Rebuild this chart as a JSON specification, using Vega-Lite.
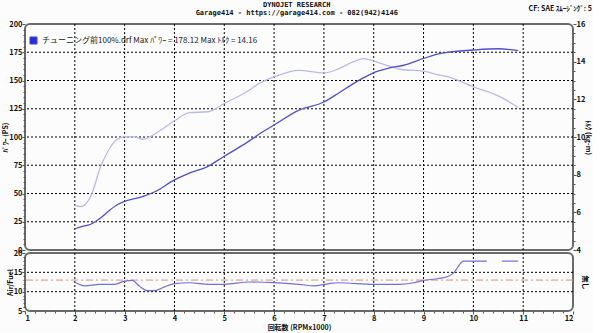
{
  "$schema": "https://vega.github.io/schema/vega-lite/v6.json",
  "background": "#fcfcfc",
  "padding": {"left": 0, "top": 1, "right": 0, "bottom": 0},
  "title": {"text": ["DYNOJET  RESEARCH", "Garage414 - https://garage414.com - 082(942)4146"], "anchor": "middle", "font": "DejaVu Sans Mono", "fontSize": 7, "fontWeight": "bold", "lineHeight": 8, "offset": -12, "color": "#111"},
  "bounds": "flush",
  "spacing": 3,
  "datasets": {
    "pt": [
      {"rpm": 2.0, "power": 18.8, "torque": 6.38},
      {"rpm": 2.12, "power": 20.5, "torque": 6.3},
      {"rpm": 2.32, "power": 22.8, "torque": 6.85},
      {"rpm": 2.52, "power": 28.5, "torque": 8.43},
      {"rpm": 2.68, "power": 34.5, "torque": 9.31},
      {"rpm": 2.85, "power": 40.0, "torque": 9.88},
      {"rpm": 3.0, "power": 43.0, "torque": 10.02},
      {"rpm": 3.2, "power": 45.5, "torque": 10.0},
      {"rpm": 3.37, "power": 47.5, "torque": 9.88},
      {"rpm": 3.63, "power": 52.0, "torque": 10.2},
      {"rpm": 4.0, "power": 62.0, "torque": 10.86},
      {"rpm": 4.3, "power": 68.0, "torque": 11.29},
      {"rpm": 4.67, "power": 74.0, "torque": 11.34},
      {"rpm": 5.0, "power": 83.0, "torque": 11.78},
      {"rpm": 5.45, "power": 95.0, "torque": 12.4},
      {"rpm": 5.75, "power": 104.0, "torque": 12.92},
      {"rpm": 6.0, "power": 110.6, "torque": 13.19},
      {"rpm": 6.5, "power": 123.8, "torque": 13.54},
      {"rpm": 7.0, "power": 131.0, "torque": 13.4},
      {"rpm": 7.3, "power": 139.0, "torque": 13.63},
      {"rpm": 7.6, "power": 147.5, "torque": 14.0},
      {"rpm": 7.8, "power": 152.5, "torque": 14.16},
      {"rpm": 8.0, "power": 157.0, "torque": 14.03},
      {"rpm": 8.3, "power": 161.0, "torque": 13.77},
      {"rpm": 8.6, "power": 163.5, "torque": 13.57},
      {"rpm": 9.0, "power": 169.5, "torque": 13.5},
      {"rpm": 9.3, "power": 173.5, "torque": 13.3},
      {"rpm": 9.5, "power": 175.0, "torque": 13.19},
      {"rpm": 10.0, "power": 177.0, "torque": 12.66},
      {"rpm": 10.5, "power": 178.1, "torque": 12.18},
      {"rpm": 10.9, "power": 176.5, "torque": 11.57}
    ],
    "afr": [
      {"rpm": 2.0, "afr": 12.5, "seg": "a"},
      {"rpm": 2.2, "afr": 11.5, "seg": "a"},
      {"rpm": 2.5, "afr": 11.9, "seg": "a"},
      {"rpm": 2.8, "afr": 11.9, "seg": "a"},
      {"rpm": 3.0, "afr": 12.75, "seg": "a"},
      {"rpm": 3.15, "afr": 12.9, "seg": "a"},
      {"rpm": 3.3, "afr": 11.4, "seg": "a"},
      {"rpm": 3.45, "afr": 10.25, "seg": "a"},
      {"rpm": 3.6, "afr": 10.25, "seg": "a"},
      {"rpm": 3.8, "afr": 11.25, "seg": "a"},
      {"rpm": 4.0, "afr": 12.1, "seg": "a"},
      {"rpm": 4.3, "afr": 12.3, "seg": "a"},
      {"rpm": 4.7, "afr": 11.9, "seg": "a"},
      {"rpm": 5.0, "afr": 11.9, "seg": "a"},
      {"rpm": 5.5, "afr": 12.5, "seg": "a"},
      {"rpm": 6.0, "afr": 12.35, "seg": "a"},
      {"rpm": 6.5, "afr": 11.9, "seg": "a"},
      {"rpm": 6.8, "afr": 11.5, "seg": "a"},
      {"rpm": 7.1, "afr": 12.1, "seg": "a"},
      {"rpm": 7.3, "afr": 12.3, "seg": "a"},
      {"rpm": 8.0, "afr": 11.9, "seg": "a"},
      {"rpm": 8.5, "afr": 11.9, "seg": "a"},
      {"rpm": 8.8, "afr": 12.3, "seg": "a"},
      {"rpm": 9.0, "afr": 12.9, "seg": "a"},
      {"rpm": 9.3, "afr": 13.4, "seg": "a"},
      {"rpm": 9.5, "afr": 14.0, "seg": "a"},
      {"rpm": 9.6, "afr": 14.8, "seg": "a"},
      {"rpm": 9.8, "afr": 17.9, "seg": "a"},
      {"rpm": 10.0, "afr": 17.9, "seg": "a"},
      {"rpm": 10.27, "afr": 17.9, "seg": "a"},
      {"rpm": 10.57, "afr": 17.9, "seg": "b"},
      {"rpm": 10.9, "afr": 17.9, "seg": "b"}
    ],
    "ref": [{"afrRef": 13}],
    "gx": [{"rpm": 2}, {"rpm": 3}, {"rpm": 4}, {"rpm": 5}, {"rpm": 6}, {"rpm": 7}, {"rpm": 8}, {"rpm": 9}, {"rpm": 10}, {"rpm": 11}],
    "gyP": [{"g": 25}, {"g": 50}, {"g": 75}, {"g": 100}, {"g": 125}, {"g": 150}, {"g": 175}],
    "gyA": [{"g": 10}, {"g": 15}]
  },
  "config": {
    "view": {"stroke": "#6a6a6a", "strokeWidth": 2, "cornerRadius": 5},
    "axis": {"labelFont": "Noto Sans CJK JP", "labelFontSize": 7.5, "labelFontWeight": "bold", "labelColor": "#111", "titleFont": "Noto Sans CJK JP", "titleFontSize": 7, "titleFontWeight": "bold", "titleColor": "#111", "domain": false, "tickColor": "#555", "grid": false, "labelPadding": 0, "titlePadding": 0}
  },
  "vconcat": [
    {
      "width": 548,
      "height": 226,
      "title": {"text": "CF: SAE  ｽﾑｰｼﾞﾝｸﾞ: 5", "anchor": "end", "dx": 0, "offset": 8, "font": "Noto Sans CJK JP", "fontSize": 7, "fontWeight": "bold", "color": "#111"},
      "layer": [
        {
          "data": {"name": "gx"},
          "mark": {"type": "rule", "color": "#000", "strokeDash": [2, 2], "strokeWidth": 1},
          "encoding": {
            "x": {"field": "rpm", "type": "quantitative", "scale": {"domain": [1, 12], "nice": false}, "axis": null}
          }
        },
        {
          "data": {"name": "gyP"},
          "mark": {"type": "rule", "color": "#000", "strokeDash": [2, 2], "strokeWidth": 1},
          "encoding": {
            "y": {"field": "g", "type": "quantitative", "scale": {"domain": [0, 200], "nice": false}, "axis": null}
          }
        },
        {
          "data": {"name": "pt"},
          "mark": {"type": "line", "color": "#babaea", "strokeWidth": 1.3, "interpolate": "monotone"},
          "encoding": {
            "x": {"field": "rpm", "type": "quantitative", "scale": {"domain": [1, 12], "nice": false}, "axis": null},
            "y": {"field": "torque", "type": "quantitative", "scale": {"domain": [4, 16], "nice": false}, "axis": {"orient": "right", "title": "ﾄﾙｸ (kg-m)", "titleAngle": 90, "values": [4, 4.5, 5, 5.5, 6, 6.5, 7, 7.5, 8, 8.5, 9, 9.5, 10, 10.5, 11, 11.5, 12, 12.5, 13, 13.5, 14, 14.5, 15, 15.5, 16], "labelExpr": "datum.value % 2 === 0 ? format(datum.value, 'd') : ''", "tickSize": {"condition": {"test": "datum.value % 2 === 0", "value": 3}, "value": 2}}}
          }
        },
        {
          "data": {"name": "pt"},
          "mark": {"type": "line", "strokeWidth": 1.3, "interpolate": "monotone"},
          "encoding": {
            "x": {"field": "rpm", "type": "quantitative", "scale": {"domain": [1, 12], "nice": false}, "axis": null},
            "y": {"field": "power", "type": "quantitative", "scale": {"domain": [0, 200], "nice": false}, "axis": {"orient": "left", "title": "ﾊﾟﾜｰ (PS)", "values": [0, 5, 10, 15, 20, 25, 30, 35, 40, 45, 50, 55, 60, 65, 70, 75, 80, 85, 90, 95, 100, 105, 110, 115, 120, 125, 130, 135, 140, 145, 150, 155, 160, 165, 170, 175, 180, 185, 190, 195, 200], "labelExpr": "datum.value % 25 === 0 ? datum.label : ''", "tickSize": {"condition": {"test": "datum.value % 25 === 0", "value": 3}, "value": 2}}},
            "color": {"datum": "チューニング前100%.drf  Max ﾊﾟﾜｰ = 178.12   Max ﾄﾙｸ = 14.16", "type": "nominal", "scale": {"range": ["#5050c8"]}, "legend": {"title": null, "orient": "none", "legendX": 4, "legendY": 12, "symbolType": "square", "symbolSize": 50, "symbolFillColor": "#2a2ad8", "symbolStrokeColor": "#10107a", "symbolStrokeWidth": 1, "labelFont": "Noto Sans CJK JP", "labelFontSize": 8, "labelColor": "#222", "labelLimit": 500, "padding": 0}}
          }
        }
      ],
      "resolve": {"scale": {"y": "independent"}}
    },
    {
      "width": 548,
      "height": 58,
      "layer": [
        {
          "data": {"name": "gx"},
          "mark": {"type": "rule", "color": "#000", "strokeDash": [2, 2], "strokeWidth": 1},
          "encoding": {
            "x": {"field": "rpm", "type": "quantitative", "scale": {"domain": [1, 12], "nice": false}, "axis": {"orient": "bottom", "title": "回転数 (RPMx1000)", "titlePadding": 2, "values": [1, 1.2, 1.4, 1.6, 1.8, 2, 2.2, 2.4, 2.6, 2.8, 3, 3.2, 3.4, 3.6, 3.8, 4, 4.2, 4.4, 4.6, 4.8, 5, 5.2, 5.4, 5.6, 5.8, 6, 6.2, 6.4, 6.6, 6.8, 7, 7.2, 7.4, 7.6, 7.8, 8, 8.2, 8.4, 8.6, 8.8, 9, 9.2, 9.4, 9.6, 9.8, 10, 10.2, 10.4, 10.6, 10.8, 11, 11.2, 11.4, 11.6, 11.8, 12], "labelExpr": "datum.value % 1 === 0 ? format(datum.value, 'd') : ''", "tickSize": {"condition": {"test": "datum.value % 1 === 0", "value": 3}, "value": 2}}}
          }
        },
        {
          "data": {"name": "gyA"},
          "mark": {"type": "rule", "color": "#000", "strokeDash": [2, 2], "strokeWidth": 1},
          "encoding": {
            "y": {"field": "g", "type": "quantitative", "scale": {"domain": [5, 20], "nice": false}, "axis": null}
          }
        },
        {
          "data": {"name": "ref"},
          "mark": {"type": "rule", "color": "#e08c78", "strokeDash": [7, 3, 2, 3], "strokeWidth": 1},
          "encoding": {
            "y": {"field": "afrRef", "type": "quantitative", "scale": {"domain": [5, 20], "nice": false}, "axis": {"orient": "right", "title": "無し", "titleAngle": 90, "titlePadding": 8, "labels": false, "ticks": false}}
          }
        },
        {
          "data": {"name": "afr"},
          "mark": {"type": "line", "color": "#7070d8", "strokeWidth": 1.2, "interpolate": "monotone"},
          "encoding": {
            "x": {"field": "rpm", "type": "quantitative", "scale": {"domain": [1, 12], "nice": false}, "axis": {"orient": "bottom", "title": "回転数 (RPMx1000)", "titlePadding": 2, "values": [1, 1.2, 1.4, 1.6, 1.8, 2, 2.2, 2.4, 2.6, 2.8, 3, 3.2, 3.4, 3.6, 3.8, 4, 4.2, 4.4, 4.6, 4.8, 5, 5.2, 5.4, 5.6, 5.8, 6, 6.2, 6.4, 6.6, 6.8, 7, 7.2, 7.4, 7.6, 7.8, 8, 8.2, 8.4, 8.6, 8.8, 9, 9.2, 9.4, 9.6, 9.8, 10, 10.2, 10.4, 10.6, 10.8, 11, 11.2, 11.4, 11.6, 11.8, 12], "labelExpr": "datum.value % 1 === 0 ? format(datum.value, 'd') : ''", "tickSize": {"condition": {"test": "datum.value % 1 === 0", "value": 3}, "value": 2}}},
            "y": {"field": "afr", "type": "quantitative", "scale": {"domain": [5, 20], "nice": false}, "axis": {"orient": "left", "title": "Air/Fuel", "values": [5, 6, 7, 8, 9, 10, 11, 12, 13, 14, 15, 16, 17, 18, 19, 20], "labelExpr": "datum.value % 5 === 0 ? datum.label : ''", "tickSize": {"condition": {"test": "datum.value % 5 === 0", "value": 3}, "value": 2}}},
            "detail": {"field": "seg", "type": "nominal"}
          }
        }
      ],
      "resolve": {"scale": {"y": "independent"}}
    }
  ]
}
